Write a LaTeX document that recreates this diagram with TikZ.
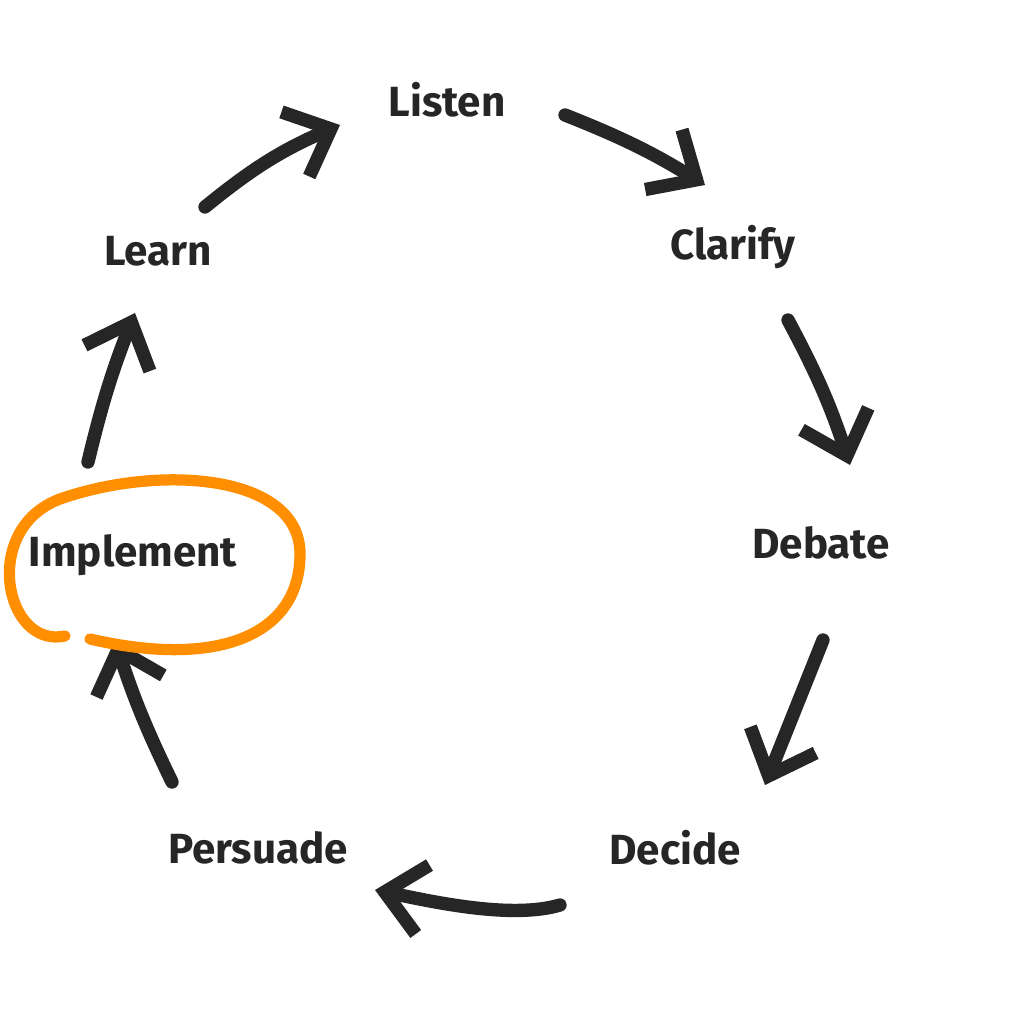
\documentclass[tikz,border=0pt]{standalone}
\usepackage{fontspec}
\setmainfont{Fira Sans}
\usetikzlibrary{arrows.meta}

\begin{document}
\begin{tikzpicture}[
      step label/.style={font=\bfseries\fontsize{12}{14}\selectfont, text=black!85, inner sep=4pt},
      cycle arrow/.style={-{Straight Barb[length=11pt,width=20pt]}, line width=3.8pt,
        line cap=round, line join=round, draw=black!85}]

    \useasboundingbox (0,0) rectangle (10.24,10.24);

    \node[step label] (listen)    at (4.47,9.24) {Listen};
    \node[step label] (clarify)   at (7.33,7.77) {Clarify};
    \node[step label] (debate)    at (8.21,4.81) {Debate};
    \node[step label] (decide)    at (6.75,1.76) {Decide};
    \node[step label] (persuade)  at (2.58,1.76) {Persuade};
    \node[step label] (implement) at (1.33,4.69) {Implement};
    \node[step label] (learn)     at (1.58,7.73) {Learn};

    \draw[cycle arrow] ([shift={(0.47,0.44)}]learn.center) to[bend left=8] ([shift={(-1.07,-0.25)}]listen.center);
    \draw[cycle arrow] ([shift={(1.18,-0.15)}]listen.center) to[bend left=5] ([shift={(-0.28,0.62)}]clarify.center);
    \draw[cycle arrow] ([shift={(0.55,-0.73)}]clarify.center) to[bend left=5] ([shift={(0.29,0.78)}]debate.center);
    \draw[cycle arrow] ([shift={(0.02,-0.97)}]debate.center) -- ([shift={(0.90,0.63)}]decide.center);
    \draw[cycle arrow] ([shift={(-1.15,-0.57)}]decide.center) .. controls +(-0.5,-0.15) and +(0.5,-0.1) .. ([shift={(1.17,-0.42)}]persuade.center);
    \draw[cycle arrow] ([shift={(-0.86,0.66)}]persuade.center) to[bend left=4] ([shift={(-0.18,-0.85)}]implement.center);
    \draw[cycle arrow] ([shift={(-0.45,0.93)}]implement.center) to[bend left=4] ([shift={(-0.23,-0.62)}]learn.center);

    % orange loop round Implement
    \draw[orange!90!red!80!yellow, line width=3.2pt, line cap=round]
      (0.90,3.85) .. controls (2.2,3.55) and (3.0,3.9) .. (3.0,4.7)
      .. controls (3.0,5.5) and (1.6,5.6) .. (0.6,5.25)
      .. controls (-0.2,4.95) and (0.05,3.75) .. (0.65,3.88);

  \end{tikzpicture}
\end{document}
